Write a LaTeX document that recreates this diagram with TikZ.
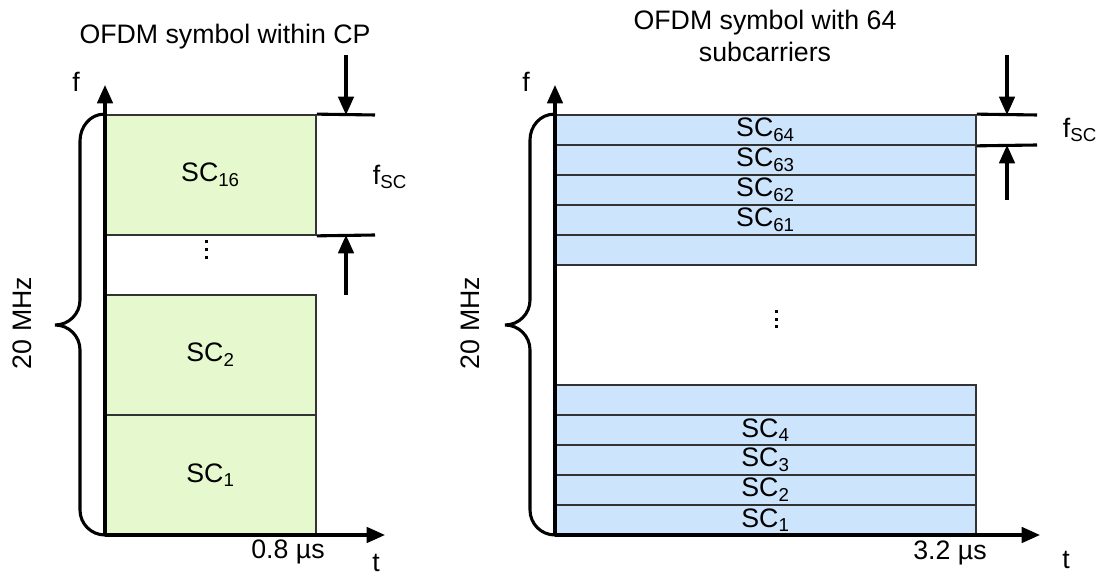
\documentclass[tikz,border=0pt]{standalone}
\usepackage{fontspec}
\setmainfont{Liberation Sans}
\usetikzlibrary{arrows.meta,positioning}
\definecolor{bandgreen}{HTML}{E6F9CE}
\definecolor{bandblue}{HTML}{CCE4FC}
\definecolor{edge}{HTML}{333333}

\begin{document}
\begin{tikzpicture}[x=0.025cm, y=0.025cm, >={Triangle[length=13pt,width=11pt]},
    font=\fontsize{19}{23}\selectfont,
    axis/.style={line width=2.2pt, ->},
    dimline/.style={line width=2.2pt},
    bracepath/.style={line width=2.2pt, line cap=round},
    lband/.style={draw=edge, fill=bandgreen, line width=1.2pt, minimum width=5.275cm, minimum height=3cm, inner sep=0pt},
    rband/.style={draw=edge, fill=bandblue, line width=1.2pt, minimum width=10.525cm, minimum height=0.75cm, inner sep=0pt}]
  \useasboundingbox (0,0) rectangle (1103,577);

  % left: 16 subcarriers
  \node[lband] (sc16) at (210.5,402) {SC\textsubscript{16}};
  \node[lband] (sc2) at (210.5,222) {SC\textsubscript{2}};
  \node[lband] (sc1) at (210.5,102) {SC\textsubscript{1}};
  \foreach \y in {335,327,319} \fill (204.5,\y-1.5) rectangle ++(3,3);
  \coordinate (lorig) at (105,42);
  \coordinate (lfend) at (105,492);
  \coordinate (ltend) at (385,42);
  \draw[axis] (lorig) -- (lfend);
  \draw[axis] (lorig) -- (ltend);
  \node (lf) at (76,495) {f};
  \node (lt) at (376,14) {t};
  \node (ltime) at (288,25) {0.8 µs};
  \node (ltitle) at (225,540) {OFDM symbol within CP};
  \coordinate (lup) at (375,462);
  \coordinate (llo) at (375,342);
  \draw[dimline] (sc16.north east) -- (lup);
  \draw[dimline] (sc16.south east) -- (llo);
  \coordinate (larrtop) at (346,522);
  \coordinate (larrbot) at (346,282);
  \draw[dimline,->] (larrtop) -- (346,462);
  \draw[dimline,->] (larrbot) -- (346,342);
  \node (lfsc) at (390,400) {f\textsubscript{SC}};
  \draw[bracepath] (sc16.north west) to[out=180,in=90] (80,436) -- (80,277)
    to[out=-90,in=0] (55,252) to[out=0,in=90] (80,227) -- (80,67)
    to[out=-90,in=180] (lorig);
  \node[rotate=90] (lbw) at (22,254) {20 MHz};

  % right: 64 subcarriers
  \node[rband] (sc64) at (765.5,447) {SC\textsubscript{64}};
  \node[rband] (sc63) at (765.5,417) {SC\textsubscript{63}};
  \node[rband] (sc62) at (765.5,387) {SC\textsubscript{62}};
  \node[rband] (sc61) at (765.5,357) {SC\textsubscript{61}};
  \node[rband] (sc60) at (765.5,327) {};
  \node[rband] (sc5) at (765.5,177) {};
  \node[rband] (sc4) at (765.5,147) {SC\textsubscript{4}};
  \node[rband] (sc3) at (765.5,117) {SC\textsubscript{3}};
  \node[rband] (rsc2) at (765.5,87) {SC\textsubscript{2}};
  \node[rband] (rsc1) at (765.5,57) {SC\textsubscript{1}};
  \foreach \y in {265,257,250} \fill (775,\y-1.5) rectangle ++(3,3);
  \coordinate (rorig) at (555,42);
  \coordinate (rfend) at (555,492);
  \coordinate (rtend) at (1040,42);
  \draw[axis] (rorig) -- (rfend);
  \draw[axis] (rorig) -- (rtend);
  \node (rf) at (526,495) {f};
  \node (rt) at (1066,17) {t};
  \node (rtime) at (950,24) {3.2 µs};
  \node[align=center] (rtitle) at (765,541) {OFDM symbol with 64\\subcarriers};
  \coordinate (rup) at (1037,462);
  \coordinate (rlo) at (1037,432);
  \draw[dimline] (sc64.north east) -- (rup);
  \draw[dimline] (sc64.south east) -- (rlo);
  \coordinate (rarrtop) at (1007,522);
  \coordinate (rarrbot) at (1007,377);
  \draw[dimline,->] (rarrtop) -- (1007,462);
  \draw[dimline,->] (rarrbot) -- (1007,432);
  \node (rfsc) at (1080,447) {f\textsubscript{SC}};
  \draw[bracepath] (sc64.north west) to[out=180,in=90] (530,437) -- (530,277)
    to[out=-90,in=0] (505,252) to[out=0,in=90] (530,227) -- (530,67)
    to[out=-90,in=180] (rorig);
  \node[rotate=90] (rbw) at (470,254) {20 MHz};
\end{tikzpicture}
\end{document}
